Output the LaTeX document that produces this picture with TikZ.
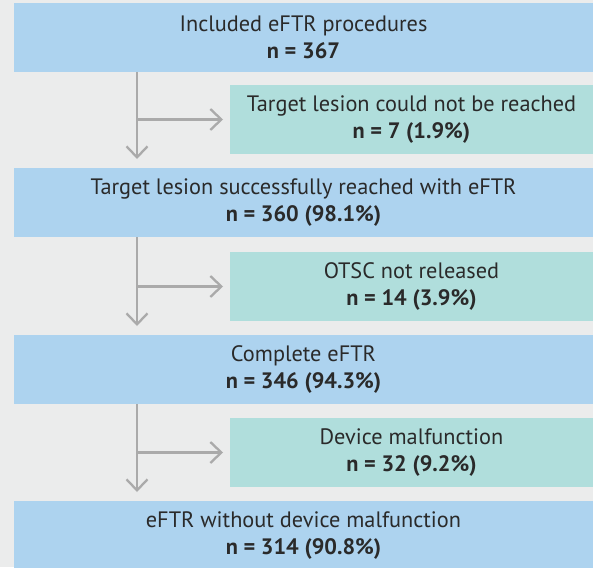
\documentclass[tikz,border=0pt]{standalone}
\usepackage{fontspec}
\setmainfont{PT Sans}
\usetikzlibrary{arrows.meta}
\definecolor{bgc}{HTML}{EBECEC}
\definecolor{bluec}{HTML}{ADD3EF}
\definecolor{tealc}{HTML}{B0DEDC}
\definecolor{arrc}{HTML}{AAAAAA}
\definecolor{txtc}{HTML}{2A2A2A}
\tikzset{
  box/.style={rectangle, inner sep=0pt, outer sep=0pt, anchor=north west, minimum height=69pt,
    align=center, text=txtc, font=\fontsize{22.3}{27.5}\selectfont},
  bluebox/.style={box, fill=bluec, minimum width=579pt},
  tealbox/.style={box, fill=tealc, minimum width=363pt},
  arr/.style={draw=arrc, line width=2.3pt, -{Straight Barb[length=11pt,width=21pt,line width=2.3pt]}}
}
\begin{document}
\begin{tikzpicture}[x=1pt,y=1pt]
\fill[bgc] (0,0) rectangle (593,-567);
\useasboundingbox (0,0) rectangle (593,-567);
\begin{scope}
\clip (0,0) rectangle (593,-567);
\node[bluebox] (b1) at (14,-3) {Included eFTR procedures\\\textbf{n = 367}};
\node[tealbox] (t1) at (230,-85) {Target lesion could not be reached\\\textbf{n = 7 (1.9\%)}};
\node[bluebox] (b2) at (14,-168) {Target lesion successfully reached with eFTR\\\textbf{n = 360 (98.1\%)}};
\node[tealbox] (t2) at (230,-252) {OTSC not released\\\textbf{n = 14 (3.9\%)}};
\node[bluebox] (b3) at (14,-335) {Complete eFTR\\\textbf{n = 346 (94.3\%)}};
\node[tealbox] (t3) at (230,-418) {Device malfunction\\\textbf{n = 32 (9.2\%)}};
\node[bluebox] (b4) at (14,-501) {eFTR without device malfunction\\\textbf{n = 314 (90.8\%)}};
\end{scope}
\foreach \a/\t/\b in {b1/t1/b2, b2/t2/b3, b3/t3/b4}{
  \coordinate (s\a) at ([xshift=123pt]\a.south west);
  \coordinate (e\a) at ([xshift=123pt,yshift=9pt]\b.north west);
  \draw[arr] (s\a) -- (e\a);
  \draw[arr] (s\a |- \t.west) -- ([xshift=-7pt]\t.west);
}
\end{tikzpicture}
\end{document}
